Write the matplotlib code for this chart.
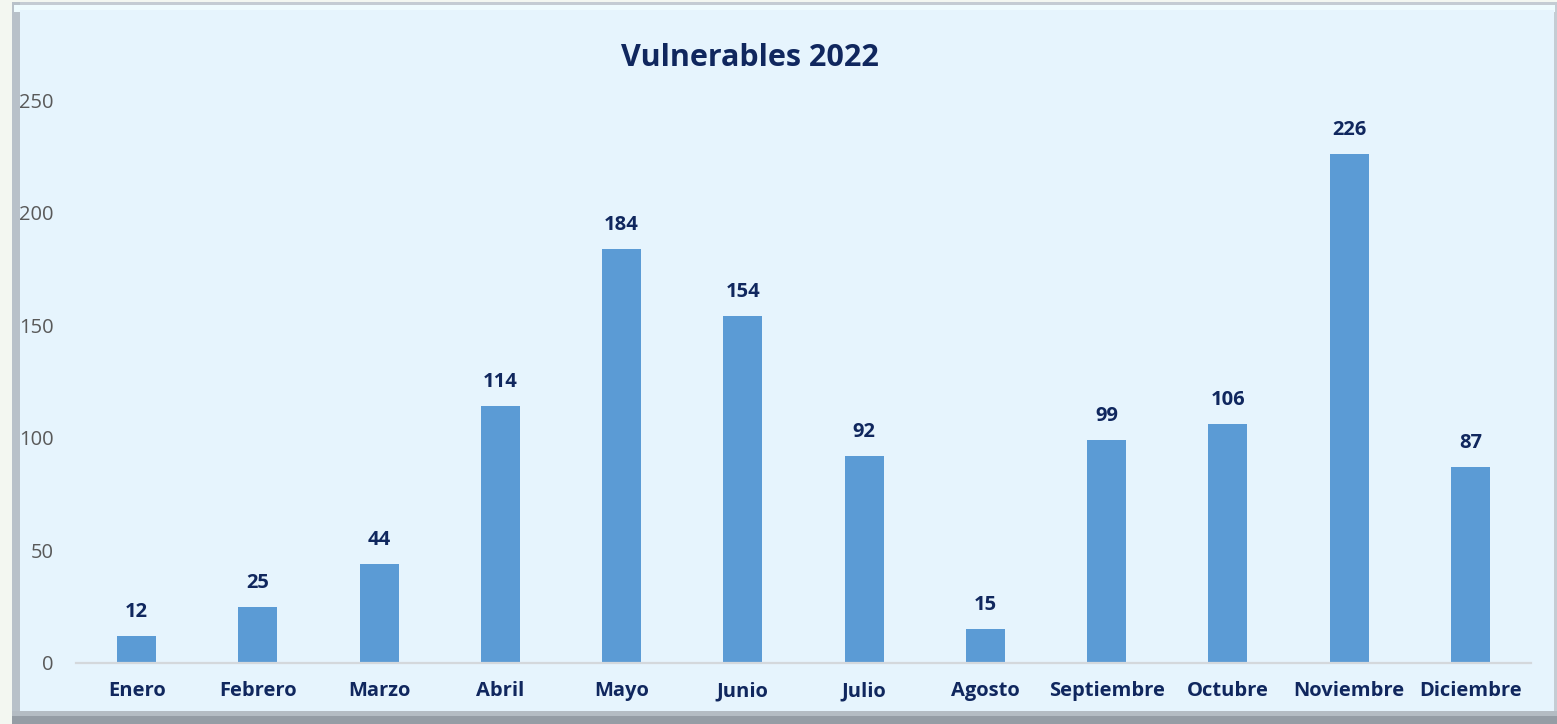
import matplotlib.pyplot as plt
from matplotlib.patches import Rectangle

# datos
meses = ['Enero', 'Febrero', 'Marzo', 'Abril', 'Mayo', 'Junio', 'Julio',
         'Agosto', 'Septiembre', 'Octubre', 'Noviembre', 'Diciembre']
vulnerables = [12, 25, 44, 114, 184, 154, 92, 15, 99, 106, 226, 87]
yticks = [0, 50, 100, 150, 200, 250]

navy = '#10275e'
bar_color = '#5b9bd5'
bg = '#e6f4fd'

plt.rcParams['font.family'] = ['Open Sans', 'DejaVu Sans']

W, H = 1557, 724
fig = plt.figure(figsize=(W / 100, H / 100), dpi=100)
fig.patch.set_facecolor('#f3f7f1')


def px_rect(x0, y0, x1, y1, color, z):
    # rectángulo en píxeles (y medido desde arriba)
    r = Rectangle((x0 / W, 1 - y1 / H), (x1 - x0) / W, (y1 - y0) / H,
                  transform=fig.transFigure, facecolor=color,
                  edgecolor='none', zorder=z)
    fig.patches.append(r)


# marco con relieve
px_rect(12, 2, W, H, '#c4ccd3', -20)
px_rect(12, 711, W, H, '#b4bcc3', -19)
px_rect(12, 716, W, H, '#959da5', -18)
px_rect(12, 2, 20, 711, '#b8c1c9', -18)
px_rect(14, 5, W - 2, 12, '#eefbfe', -17)
px_rect(20, 10, W - 3, 711, bg, -16)

ax = fig.add_axes([76 / W, 1 - 663 / H, (1531 - 76) / W, (663 - 100) / H])
ax.set_facecolor('none')
ax.set_zorder(5)

x = range(len(meses))
ax.bar(x, vulnerables, width=0.32, color=bar_color, zorder=2)

for xi, v in zip(x, vulnerables):
    ax.annotate(str(v), (xi, v), xytext=(0, 10), textcoords='offset points',
                ha='center', va='bottom', fontsize=14.5, fontweight='bold',
                color=navy)

ax.set_ylim(0, 250)
ax.set_xlim(-0.5, len(meses) - 0.5)
ax.set_yticks(yticks)
ax.set_xticks(list(x))
ax.set_xticklabels(meses, fontsize=14.5, fontweight='bold', color=navy)
ax.tick_params(axis='y', labelsize=14.5, labelcolor='#595959', length=0, pad=16)
ax.tick_params(axis='x', length=0, pad=13)

for s in ['top', 'right', 'left']:
    ax.spines[s].set_visible(False)
ax.spines['bottom'].set_color('#d4d8dc')
ax.spines['bottom'].set_linewidth(1.6)

fig.text(750 / W, 1 - 58 / H, 'Vulnerables 2022', ha='center', va='center',
         fontsize=22, fontweight='bold', color=navy, zorder=6)

fig.savefig('out.png', dpi=100, facecolor=fig.get_facecolor())
